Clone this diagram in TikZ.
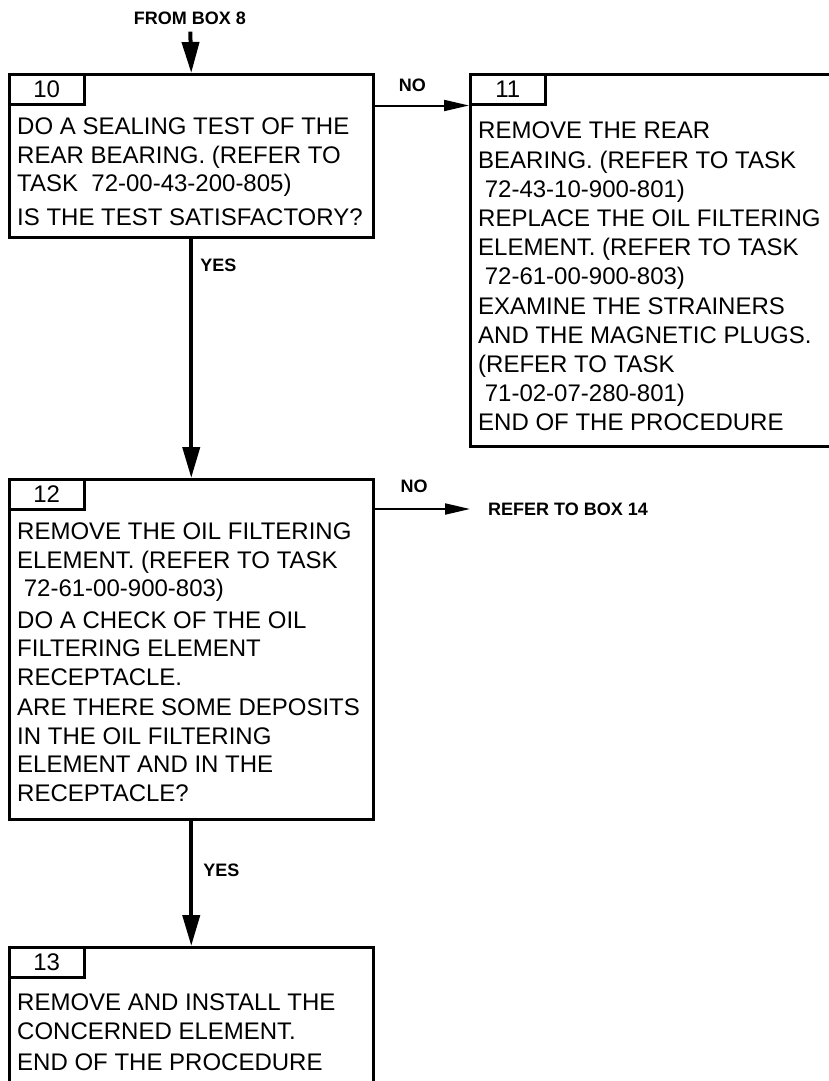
\documentclass[tikz,border=0pt]{standalone}
\usepackage{fontspec}
\setmainfont{Liberation Sans}
\usetikzlibrary{arrows.meta, positioning, calc}

\begin{document}
\begin{tikzpicture}[
  x=1pt, y=-1pt,
  every node/.style={font=\fontsize{24}{28.5}\selectfont},
  stepbox/.style={rectangle, draw, line width=2.5pt, anchor=north west,
                  inner sep=0pt},
  numtab/.style={rectangle, draw, line width=2.5pt, anchor=north west,
                 minimum width=75pt, minimum height=30pt, inner sep=0pt},
  boxtext/.style={align=left, inner sep=0pt},
  tag/.style={font=\fontsize{18}{21}\bfseries\selectfont, inner sep=0pt},
  arr/.style={-{Triangle[length=31pt, width=17pt]}, line width=4pt},
  narr/.style={-{Triangle[length=25pt, width=11pt]}, line width=2pt},
]
\useasboundingbox (0,0) rectangle (829,1081);

% boxes
\node[stepbox, minimum width=364pt, minimum height=163pt] (b10) at (8,73) {};
\node[stepbox, minimum width=440pt, minimum height=372pt] (b11) at (469,73) {};
\node[stepbox, minimum width=364pt, minimum height=340pt] (b12) at (8,478) {};
\node[stepbox, minimum width=364pt, minimum height=170pt] (b13) at (8,946) {};

\node[numtab] (t10) at (b10.north west) {10};
\node[numtab] (t11) at (b11.north west) {11};
\node[numtab] (t12) at (b12.north west) {12};
\node[numtab] (t13) at (b13.north west) {13};

\node[boxtext, below right=45pt and 9pt of b10.north west] (x10)
  {DO A SEALING TEST OF THE\\
   REAR BEARING. (REFER TO\\
   TASK\ \ 72-00-43-200-805)\\[5pt]
   IS THE TEST SATISFACTORY?};
\node[boxtext, font=\fontsize{24}{29.2}\selectfont,
      below right=49pt and 9pt of b11.north west] (x11)
  {REMOVE THE REAR\\
   BEARING. (REFER TO TASK\\
   \ 72-43-10-900-801)\\
   REPLACE THE OIL FILTERING\\
   ELEMENT. (REFER TO TASK\\
   \ 72-61-00-900-803)\\
   EXAMINE THE STRAINERS\\
   AND THE MAGNETIC PLUGS.\\
   (REFER TO TASK\\
   \ 71-02-07-280-801)\\
   END OF THE PROCEDURE};
\node[boxtext, below right=45pt and 9pt of b12.north west] (x12)
  {REMOVE THE OIL FILTERING\\
   ELEMENT. (REFER TO TASK\\
   \ 72-61-00-900-803)\\[3pt]
   DO A CHECK OF THE OIL\\
   FILTERING ELEMENT\\
   RECEPTACLE.\\[2pt]
   ARE THERE SOME DEPOSITS\\
   IN THE OIL FILTERING\\
   ELEMENT AND IN THE\\
   RECEPTACLE?};
\node[boxtext, below right=48pt and 9pt of b13.north west] (x13)
  {REMOVE AND INSTALL THE\\
   CONCERNED ELEMENT.\\[3pt]
   END OF THE PROCEDURE};

% outside references
\node[tag, inner ysep=7pt] (from8) at (190,18) {FROM BOX 8};
\node[tag, anchor=west, inner xsep=0pt] (ref14) at (488,509) {REFER TO BOX 14};

% connectors
\draw[arr] (from8) -- (b10.north);
\draw[narr] (b10.east |- t11.south) -- node[tag, pos=0.4, above=13pt]{NO} (t11.south west);
\draw[arr] (b10) -- node[tag, pos=0.11, right=7pt]{YES} (b12);
\draw[narr, shorten >=18pt] (b12.east |- ref14.west) -- node[tag, pos=0.35, above=15pt]{NO} (ref14.west);
\draw[arr] (b12) -- node[tag, pos=0.4, right=10pt]{YES} (b13);
\end{tikzpicture}
\end{document}
